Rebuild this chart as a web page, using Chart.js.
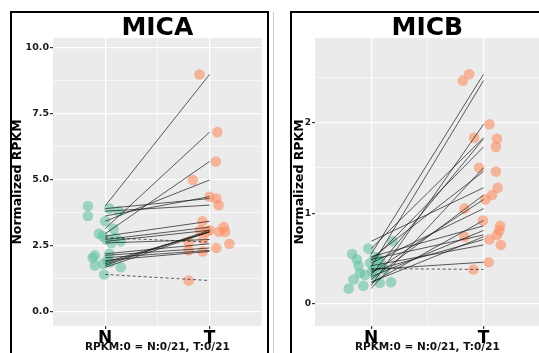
<!DOCTYPE html>
<html><head><meta charset="utf-8">
<script src="https://cdn.jsdelivr.net/npm/chart.js@4.4.1/dist/chart.umd.min.js"></script>
<style>
html,body{margin:0;padding:0;background:#fff;width:539px;height:353px;overflow:hidden;position:relative;}
canvas{position:absolute;}
.frame{position:absolute;border:2px solid #000;box-sizing:border-box;pointer-events:none;}
</style></head><body>
<canvas id="micaChart" width="257" height="340" style="left:10px;top:13px"></canvas>
<canvas id="micbChart" width="253" height="340" style="left:292px;top:13px"></canvas>
<div class="frame" style="left:10px;top:11px;width:259px;height:360px"></div>
<div class="frame" style="left:290px;top:11px;width:270px;height:360px"></div>
<div style="position:absolute;left:273px;top:12px;width:1px;height:341px;background:#cfcfcf"></div>
<script>
// ---- data ----
const categories = ['N', 'T'];
const categoryPos = [1, 2];
const xMinor = [1.5];
const footnote = 'RPKM:0 = N:0/21, T:0/21';
const yTitle = 'Normalized RPKM';

// MICA: paired samples (normal -> tumor)
const micaN = [4.00, 3.90, 3.80, 3.62, 3.42, 3.14, 2.95, 2.86, 2.80, 2.73, 2.66, 2.60, 2.19, 2.13, 2.04, 1.94, 1.87, 1.81, 1.75, 1.68, 1.41];
const micaT = [8.97, 4.28, 4.03, 4.35, 4.98, 6.79, 5.68, 3.42, 2.63, 3.20, 3.08, 2.73, 2.57, 2.41, 2.32, 2.28, 3.02, 3.02, 3.08, 3.02, 1.18];
const micaJitN = [-0.165, 0.04, 0.13, -0.165, 0.00, 0.08, -0.06, -0.025, 0.10, 0.01, 0.15, 0.06, 0.04, -0.10, -0.12, 0.02, 0.05, -0.02, -0.10, 0.15, -0.01];
const micaJitT = [-0.096, 0.065, 0.087, 0.0, -0.16, 0.075, 0.06, -0.068, -0.2, 0.137, 0.0, -0.06, 0.19, 0.065, -0.2, -0.065, 0.15, 0.09, -0.09, -0.03, -0.2];
const micaYTicks = [0, 2.5, 5, 7.5, 10];
const micaYMinor = [1.25, 3.75, 6.25, 8.75];

// MICB
const micbN = [0.55, 0.41, 0.20, 0.61, 0.32, 0.47, 0.17, 0.50, 0.69, 0.27, 0.34, 0.45, 0.23, 0.52, 0.30, 0.49, 0.24, 0.36, 0.42, 0.38, 0.39];
const micbT = [2.53, 2.46, 1.98, 1.83, 1.82, 1.73, 1.50, 1.46, 1.28, 1.20, 1.15, 1.05, 0.92, 0.86, 0.81, 0.76, 0.74, 0.71, 0.65, 0.46, 0.38];
const micbJitN = [-0.17, 0.06, -0.07, -0.026, -0.055, 0.08, -0.2, 0.06, 0.19, -0.157, -0.1, -0.01, 0.076, 0.03, 0.04, -0.128, 0.177, 0.01, -0.113, 0.12, 0.03];
const micbJitT = [-0.128, -0.185, 0.052, -0.084, 0.12, 0.11, -0.04, 0.11, 0.126, 0.076, 0.017, -0.17, -0.006, 0.148, 0.14, 0.12, -0.17, 0.052, 0.154, 0.046, -0.09];
const micbYTicks = [0, 1, 2];
const micbYMinor = [0.5, 1.5, 2.5];

// ---- chart ----
const FONT = "'DejaVu Sans', sans-serif";
const panelBg = {
  id: 'panelBg',
  beforeDraw(chart) {
    const a = chart.chartArea, c = chart.ctx;
    c.save(); c.fillStyle = '#EBEBEB';
    c.fillRect(a.left, a.top, a.right - a.left, a.bottom - a.top);
    c.restore();
  }
};

function buildTicks(major, minor) {
  return s => {
    s.ticks = major.map(v => ({value: v, isMajor: true}))
      .concat(minor.map(v => ({value: v, isMajor: false})))
      .sort((a, b) => a.value - b.value);
  };
}

function makeChart(id, title, N, T, jN, jT, yMajor, yMinor, yMin, yMax, fmt, tickSize, yAxisW) {
  const lines = N.map((n, i) => ({
    data: [{x: categoryPos[0], y: n}, {x: categoryPos[1], y: T[i]}],
    showLine: true, pointRadius: 0, borderColor: 'rgba(25,25,25,0.78)', borderWidth: 0.9,
    borderDash: T[i] < n ? [3, 2.5] : [], order: 0
  }));
  const ptsN = {
    data: N.map((n, i) => ({x: categoryPos[0] + jN[i], y: n})),
    pointRadius: 5.3, pointBackgroundColor: 'rgba(102,194,165,0.6)', pointBorderWidth: 0, order: 1
  };
  const ptsT = {
    data: T.map((t, i) => ({x: categoryPos[1] + jT[i], y: t})),
    pointRadius: 5.3, pointBackgroundColor: 'rgba(252,141,98,0.6)', pointBorderWidth: 0, order: 1
  };
  return new Chart(document.getElementById(id), {
    type: 'scatter',
    data: {datasets: [...lines, ptsN, ptsT]},
    plugins: [panelBg],
    options: {
      responsive: false, animation: false, devicePixelRatio: 1, events: [],
      layout: {padding: 0},
      plugins: {
        legend: {display: false}, tooltip: {enabled: false},
        title: {display: true, text: title, fullSize: false, color: '#000',
          font: {family: FONT, size: 25, weight: 'bold', lineHeight: 0.76},
          padding: {top: 6, bottom: 0}}
      },
      scales: {
        x: {
          type: 'linear', min: 0.5, max: 2.5,
          afterBuildTicks: buildTicks(categoryPos, xMinor),
          afterFit: s => { s.height = 27; },
          border: {display: false},
          grid: {color: '#fff', lineWidth: c => c.tick && c.tick.isMajor ? 1.2 : 0.6,
                 tickColor: c => c.tick && c.tick.isMajor ? '#333' : 'rgba(0,0,0,0)', tickLength: 3},
          ticks: {autoSkip: false, maxRotation: 0, padding: 0, color: '#000',
                  font: {family: FONT, size: 17, weight: 'bold', lineHeight: 1.1},
                  callback: (v, i, t) => t[i].isMajor ? categories[categoryPos.indexOf(v)] : ''},
          title: {display: true, text: footnote, color: '#111', padding: {top: 0, bottom: 0},
                  font: {family: FONT, size: 10.5, weight: 'bold', lineHeight: 1}}
        },
        y: {
          type: 'linear', min: yMin, max: yMax,
          afterBuildTicks: buildTicks(yMajor, yMinor),
          afterFit: s => { s.width = yAxisW; },
          border: {display: false},
          grid: {color: '#fff', lineWidth: c => c.tick && c.tick.isMajor ? 1.2 : 0.6,
                 tickColor: c => c.tick && c.tick.isMajor ? '#333' : 'rgba(0,0,0,0)', tickLength: 3},
          ticks: {autoSkip: false, padding: 1, color: '#1a1a1a',
                  font: {family: FONT, size: tickSize, weight: 'bold'},
                  callback: (v, i, t) => t[i].isMajor ? fmt(v) : ''},
          title: {display: true, text: yTitle, color: '#000', padding: 0,
                  font: {family: FONT, size: 12.5, weight: 'bold', lineHeight: 1.2}}
        }
      }
    }
  });
}

makeChart('micaChart', 'MICA', micaN, micaT, micaJitN, micaJitT, micaYTicks, micaYMinor, -0.54, 10.35, v => v.toFixed(1), 9.5, 43);
makeChart('micbChart', 'MICB', micbN, micbT, micbJitN, micbJitT, micbYTicks, micbYMinor, -0.243, 2.93, v => v.toFixed(0), 9, 23);
</script>
</body></html>
